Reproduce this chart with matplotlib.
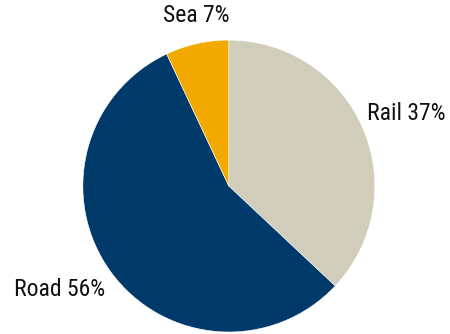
import matplotlib
matplotlib.use("Agg")
import matplotlib.pyplot as plt

# shares by transport mode, clockwise from 12 o'clock
modes = ['Rail', 'Road', 'Sea']
shares = [37, 56, 7]
colors = ['#D0CDBA', '#003A6A', '#F2AA00']

plt.rcParams['font.family'] = ['Roboto Condensed', 'Liberation Sans Narrow', 'Roboto', 'DejaVu Sans']

fig = plt.figure(figsize=(4.5, 3.34), dpi=100)
ax = fig.add_axes([0.184, 0.006, 0.649, 0.874])

ax.pie(shares, colors=colors, startangle=90, counterclock=False,
       wedgeprops=dict(edgecolor='white', linewidth=0.4))
ax.set_xlim(-1, 1)
ax.set_ylim(-1, 1)
ax.set_aspect('equal')

# label placement (data units, radius = 1)
label_pos = {
    'Rail': (0.95, 0.50, 'left'),
    'Road': (-0.85, -0.71, 'right'),
    'Sea': (-0.22, 1.17, 'center'),
}
for m, s in zip(modes, shares):
    x, y, ha = label_pos[m]
    ax.text(x, y, f'{m} {s}%', ha=ha, va='center', fontsize=17, color='#111111')

fig.savefig('out.png', dpi=100)
